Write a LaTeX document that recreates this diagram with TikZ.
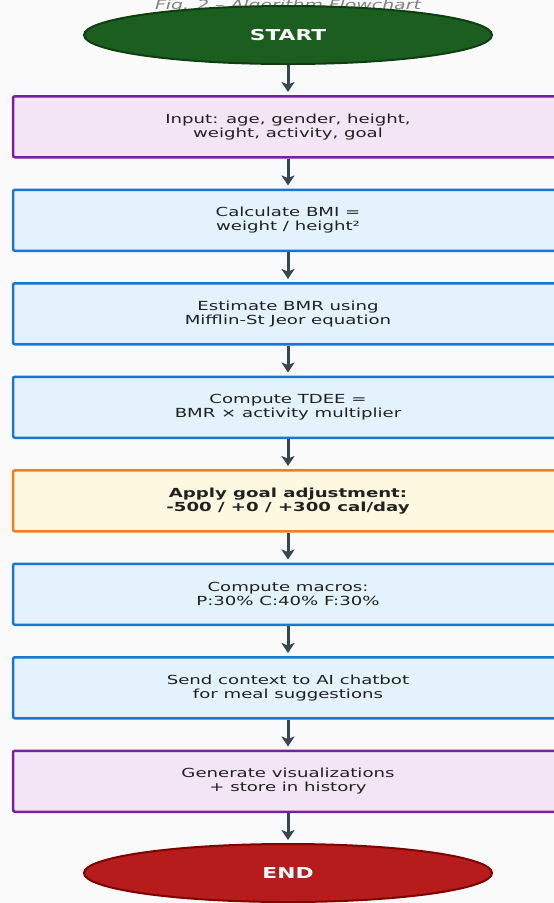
\documentclass[tikz,border=0pt]{standalone}
\usepackage{fontspec}
\setmainfont{DejaVu Sans}[FakeStretch=1.45]
\usetikzlibrary{shapes,shapes.geometric,positioning,arrows.meta}
\definecolor{pagebg}{HTML}{FAFAFA}
\definecolor{startfill}{HTML}{1B5E20}
\definecolor{startline}{HTML}{0D3F12}
\definecolor{endfill}{HTML}{B71C1C}
\definecolor{endline}{HTML}{7F0000}
\definecolor{purplefill}{HTML}{F3E5F5}
\definecolor{purpleline}{HTML}{7B1FA2}
\definecolor{bluefill}{HTML}{E3F2FD}
\definecolor{blueline}{HTML}{1976D2}
\definecolor{orangefill}{HTML}{FFF8E1}
\definecolor{orangeline}{HTML}{F57F17}
\definecolor{linkgray}{HTML}{37474F}
\definecolor{textgray}{HTML}{212121}

\begin{document}
\begin{tikzpicture}[x=1pt, y=1pt, node distance=30pt, ->,
        >={Stealth[length=10pt,width=13pt,inset=2.5pt]}]
      \tikzstyle{terminal} = [ellipse, minimum width=408pt, minimum height=58pt,
        line width=2pt, text=white, font=\fontsize{15}{17}\selectfont\bfseries]
      \tikzstyle{stepbox} = [rectangle, rounded corners=2pt, minimum width=550pt,
        minimum height=61pt, line width=2.5pt, align=center, text=textgray,
        font=\fontsize{12.5}{14}\selectfont]
      \tikzstyle{inout} = [stepbox, draw=purpleline, fill=purplefill]
      \tikzstyle{calc} = [stepbox, draw=blueline, fill=bluefill]
      \tikzstyle{goal} = [stepbox, draw=orangeline, fill=orangefill]
      \tikzstyle{link} = [line width=3pt, draw=linkgray, shorten >=3pt]
      \fill[pagebg] (0,0) rectangle (554,-903);
      \clip (0,0) rectangle (554,-903);
      \node (title) [anchor=base, text=gray, font=\fontsize{13}{15}\selectfont\itshape]
        at (288,-9) {Fig. 2 – Algorithm Flowchart};
      \node (start) [terminal, fill=startfill, draw=startline] at (288,-35) {START};
      \node (input) [inout, below=of start] {Input: age, gender, height,\\weight, activity, goal};
      \node (bmi) [calc, below=of input] {Calculate BMI =\\weight / height²};
      \node (bmr) [calc, below=of bmi] {Estimate BMR using\\Mifflin-St Jeor equation};
      \node (tdee) [calc, below=of bmr] {Compute TDEE =\\BMR × activity multiplier};
      \node (adjust) [goal, below=of tdee] {\bfseries Apply goal adjustment:\\\bfseries -500 / +0 / +300 cal/day};
      \node (macros) [calc, below=of adjust] {Compute macros:\\P:30\% C:40\% F:30\%};
      \node (chatbot) [calc, below=of macros] {Send context to AI chatbot\\for meal suggestions};
      \node (visual) [inout, below=of chatbot] {Generate visualizations\\+ store in history};
      \node (end) [terminal, fill=endfill, draw=endline, below=of visual] {END};
      % connectors
      \draw[link] (start) -- (input);
      \draw[link] (input) -- (bmi);
      \draw[link] (bmi) -- (bmr);
      \draw[link] (bmr) -- (tdee);
      \draw[link] (tdee) -- (adjust);
      \draw[link] (adjust) -- (macros);
      \draw[link] (macros) -- (chatbot);
      \draw[link] (chatbot) -- (visual);
      \draw[link] (visual) -- (end);
    \end{tikzpicture}
\end{document}
